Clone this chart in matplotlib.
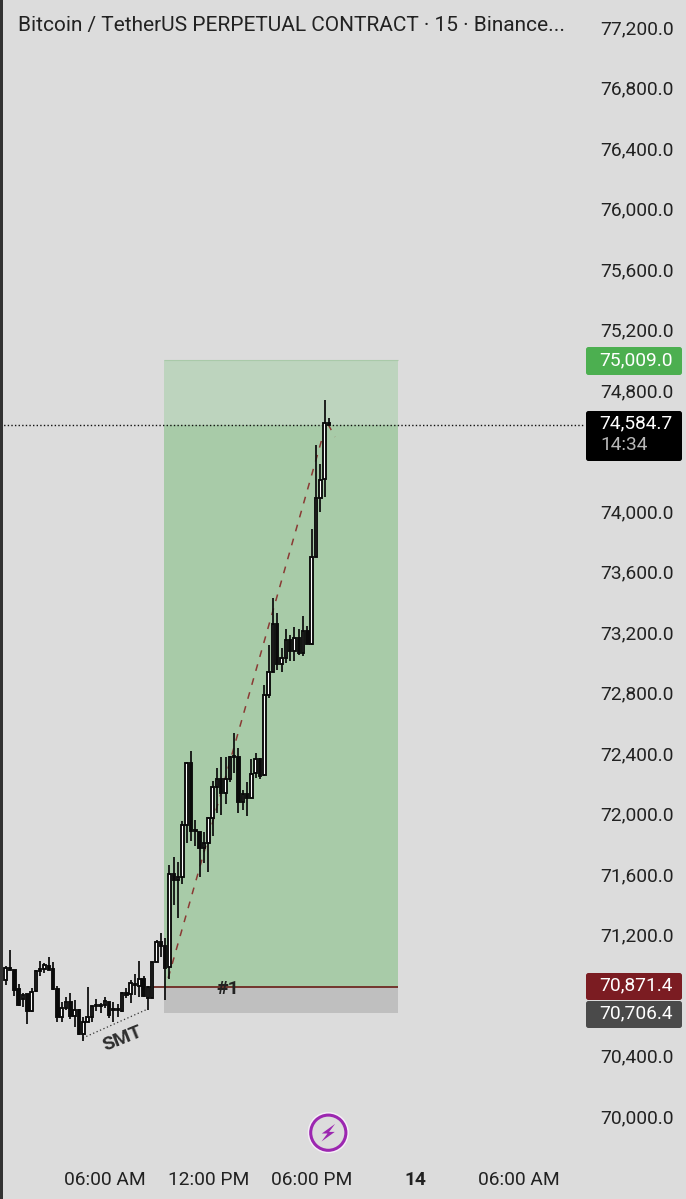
import matplotlib
matplotlib.use("Agg")
import matplotlib.pyplot as plt
from matplotlib.patches import Rectangle, FancyBboxPatch, Circle, Polygon
from matplotlib.transforms import ScaledTranslation
import numpy as np

plt.rcParams['font.family'] = ['Roboto', 'DejaVu Sans']

# ---- data ----
opens = [70912,70989,70978,70850,70784,70819,70705,70839,70983,70983,71007,70983,70853,70670,70729,70769,70674,70714,70553,70637,
         70665,70745,70745,70747,70769,70720,70720,70709,70824,70817,70886,70872,70916,70795,70791,71033,71166,71139,71000,71613,
         71573,71595,71937,72345,71904,71893,71783,71816,71981,72186,72241,72151,72241,72393,72389,72091,72140,72118,72279,72373,
         72268,72796,72951,73264,73001,73043,73160,73090,73171,73072,73220,73134,73711,74097,74222,74593]
highs = [71005,71110,70978,70886,70828,70819,70857,70978,71040,71022,71062,71033,70872,70769,70802,70824,70780,70718,70670,70868,
         70740,70784,70762,70802,70769,70769,70753,70835,70857,70912,70952,71040,70939,70872,71033,71177,71225,71188,71672,71727,
         71690,71966,72351,72428,71970,71893,71893,71992,72230,72316,72389,72389,72393,72543,72444,72168,72223,72373,72415,72378,
         72863,73127,73435,73341,73105,73231,73193,73248,73231,73321,73253,73892,74449,74324,74747,74626]
lows = [70879,70978,70806,70740,70731,70621,70703,70835,70939,70961,70978,70846,70637,70637,70714,70652,70604,70548,70511,70637,
        70637,70709,70696,70725,70659,70637,70665,70703,70791,70758,70813,70797,70797,70714,70791,71033,71066,70780,70916,71408,
        71320,71547,71820,71833,71798,71595,71684,71628,71864,72014,72003,72076,72223,72279,72014,72036,71996,72113,72250,72241,
        72263,72774,72951,72962,72951,73006,73023,73023,73061,73054,73131,73127,73711,74009,74108,74579]
closes = [70989,70980,70846,70747,70815,70705,70835,70969,70972,71009,70980,70850,70670,70729,70769,70674,70714,70553,70637,70665,
          70740,70740,70738,70775,70681,70714,70712,70826,70815,70890,70877,70916,70806,70864,71033,71166,71139,70994,71613,71573,
          71591,71937,72345,71897,71897,71783,71816,71981,72186,72241,72151,72241,72389,72389,72091,72140,72118,72274,72371,72263,
          72796,72951,73264,73001,73043,73160,73090,73171,73072,73220,73134,73711,74097,74218,74593,74584.7]

target_price = 75009.0
current_price = 74584.7
entry_price = 70871.4
stop_price = 70706.4
entry_level = 70865
stop_level = 70695

price_ticks = [70000,70400,71200,71600,72000,72400,72800,73200,73600,74000,74800,75200,75600,76000,76400,76800,77200]
time_tick_bars = [24,48,72,96,120]
time_tick_labels = ['06:00 AM','12:00 PM','06:00 PM','14','06:00 AM']

path_bars = [38.7,75.5,77.4]
path_prices = [70926,74602,74503]
smt_bars = [18.9,34.0]
smt_prices = [70529,70721]
box_start_bar = 37.7
box_end_bar = 92.0
entry_line_start_bar = 34.5
last_price_line_end_bar = 135.4

BG = '#dcdcdc'
TXT = '#222222'
FS = 13.75
bars = np.arange(1, len(opens) + 1)

fig = plt.figure(figsize=(6.86, 11.99), dpi=100, facecolor=BG)
ax = fig.add_axes([0, 0, 1, 1], facecolor=BG)
ax.set_xlim(-0.3225, 158.84)
ax.set_ylim(69464.5, 77391.8)
for s in ax.spines.values():
    s.set_visible(False)

# position box
ax.add_patch(Rectangle((box_start_bar, current_price), box_end_bar - box_start_bar, target_price - current_price,
                       fc='#bdd4be', ec='none', zorder=1))
ax.add_patch(Rectangle((box_start_bar, entry_level), box_end_bar - box_start_bar, current_price - entry_level,
                       fc='#a8cba8', ec='none', zorder=1))
ax.add_patch(Rectangle((box_start_bar, stop_level), box_end_bar - box_start_bar, entry_level - stop_level,
                       fc='#bfbfbf', ec='none', zorder=1))
ax.hlines(target_price, box_start_bar, box_end_bar, color='#a9c9a9', lw=0.8, zorder=1.5)
ax.hlines(entry_level, entry_line_start_bar, box_end_bar, color='#6e2a22', lw=1.3, zorder=2)

# projected path
ax.plot(path_bars, path_prices, color='#8a3a34', lw=1.1, dashes=(4.5, 5), zorder=2.5)

# candles
width = 0.58
for i, o, h, l, c in zip(bars, opens, highs, lows, closes):
    up = c >= o
    ax.vlines(i, l, h, color='#111111', lw=1.3, zorder=3)
    lo, hi = min(o, c), max(o, c)
    ax.add_patch(Rectangle((i - width / 2, lo), width, hi - lo, fc='white' if up else '#0a0a0a',
                           ec='#0a0a0a', lw=1.35, zorder=4))

# SMT
ax.plot(smt_bars, smt_prices, color='#333333', lw=0.9, ls=(0, (1, 2)), zorder=2.5)
ax.text(28.2, 70522, 'SMT', rotation=22, ha='center', va='center', fontsize=14, color='#2e2e2e',
        fontweight='bold', zorder=5, rotation_mode='anchor')
ax.text(52.6, 70852, '#1', ha='center', va='center', fontsize=14, color='#222222', fontweight='bold', zorder=5)

# last price line
ax.hlines(current_price, ax.get_xlim()[0], last_price_line_end_bar, color='#111111', lw=1.0,
          linestyles=(0, (1, 1.6)), zorder=5)

# axes ticks as labels inside the figure
ax.yaxis.tick_right()
ax.set_yticks(price_ticks)
ax.set_yticklabels([f'{p:,.1f}' for p in price_ticks])
ax.tick_params(axis='y', length=0, pad=-61.9, labelsize=FS, labelcolor=TXT)
up_shift = ScaledTranslation(0, 1.5 / 72, fig.dpi_scale_trans)
for t in ax.get_yticklabels():
    t.set_ha('left')
    t.set_transform(t.get_transform() + up_shift)
ax.set_xticks(time_tick_bars)
ax.set_xticklabels(time_tick_labels)
ax.tick_params(axis='x', length=0, pad=-20.5, labelsize=FS, labelcolor=TXT)
ax.get_xticklabels()[3].set_fontweight('bold')

# overlay in pixel coordinates for the chrome
ov = fig.add_axes([0, 0, 1, 1], facecolor='none')
ov.set_xlim(0, 686)
ov.set_ylim(1199, 0)
ov.axis('off')

ov.add_patch(Rectangle((0, 0), 3, 1199, fc='#333333', ec='none'))
ov.text(18, 25.5, 'Bitcoin / TetherUS PERPETUAL CONTRACT · 15 · Binance...', fontsize=15.0, color=TXT,
        ha='left', va='center')

def badge(y0, y1, fc, radius=2.5):
    ov.add_patch(FancyBboxPatch((586 + radius, y0 + radius), 96 - 2 * radius, y1 - y0 - 2 * radius,
                                boxstyle=f'round,pad={radius},rounding_size={radius}', fc=fc, ec='none'))

badge(347, 375, '#4caf50')
ov.text(636, 360, f'{target_price:,.1f}', color='white', fontsize=FS, ha='center', va='center')
badge(411, 461, '#000000')
ov.text(636, 423, f'{current_price:,.1f}', color='white', fontsize=FS, ha='center', va='center')
ov.text(600, 445.5, '14:34', color='#b8b8b8', fontsize=FS, ha='left', va='center')
badge(973, 1000, '#7b1c22')
ov.text(636, 985.5, f'{entry_price:,.1f}', color='white', fontsize=FS, ha='center', va='center')
badge(1001, 1028, '#4a4a4a')
ov.text(636, 1013, f'{stop_price:,.1f}', color='white', fontsize=FS, ha='center', va='center')

# bolt icon
cx, cy = 328.3, 1132.7
ov.add_patch(Circle((cx, cy), 19.5, fc='none', ec='#f6eef8', lw=1.6))
ov.add_patch(Circle((cx, cy), 17.6, fc='none', ec='#9c27b0', lw=2.2))
bolt = np.array([(6.8, -8.8), (-6.5, 0.8), (-0.8, 0.8), (-6.8, 8.8), (6.5, -0.8), (0.8, -0.8)])
ov.add_patch(Polygon(bolt + [cx, cy], closed=True, fc='#9c27b0', ec='none'))

fig.savefig('out.png', dpi=100, facecolor=BG)
